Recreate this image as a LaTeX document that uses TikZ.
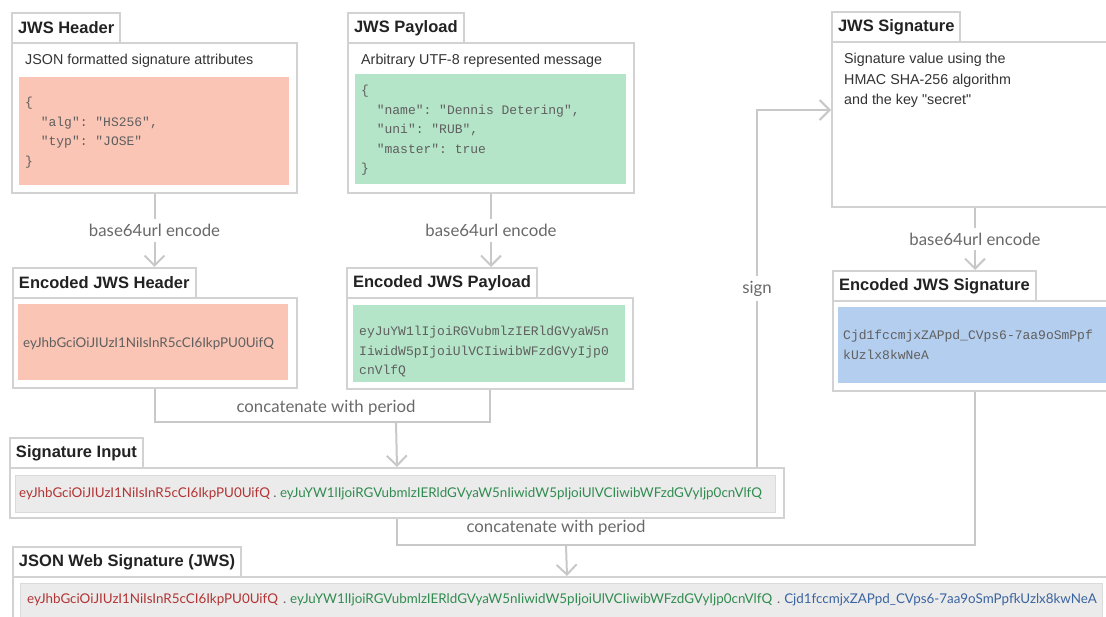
\documentclass[tikz,border=0pt]{standalone}
\usepackage{fontspec}
\setmainfont{Liberation Sans}[Ligatures=TeXOff]
\setmonofont{Liberation Mono}
\newfontfamily\latofont{Lato}
\usetikzlibrary{arrows.meta,positioning,calc}
\definecolor{salmon}{RGB}{250,197,181}
\definecolor{mint}{RGB}{181,229,200}
\definecolor{skyblue}{RGB}{180,206,239}
\definecolor{wellgray}{RGB}{235,235,235}
\definecolor{wellline}{RGB}{218,218,218}
\definecolor{framegray}{RGB}{210,210,210}
\definecolor{wiregray}{RGB}{200,200,200}
\definecolor{titleblack}{RGB}{34,34,34}
\definecolor{descgray}{RGB}{51,51,51}
\definecolor{codegray}{RGB}{95,95,95}
\definecolor{labelgray}{RGB}{105,105,105}
\definecolor{hdrred}{RGB}{178,52,52}
\definecolor{paygreen}{RGB}{48,140,80}
\definecolor{sigblue}{RGB}{58,100,160}

\begin{document}
\begin{tikzpicture}[x=1pt,y=-1pt,
    panelbox/.style={draw=framegray, line width=2pt, fill=white, anchor=north west, inner sep=0pt},
    tabbox/.style={draw=framegray, line width=2pt, fill=white, anchor=north west, inner xsep=6pt,
        inner ysep=0pt, minimum height=30pt, text=titleblack, font=\bfseries\fontsize{16.5}{19}\selectfont},
    wellbox/.style={anchor=north west, inner sep=0pt},
    desctext/.style={inner sep=0pt, align=left, text=descgray, font=\fontsize{14.3}{20.5}\selectfont},
    codetext/.style={anchor=north west, inner sep=0pt, align=left, text=codegray, font=\ttfamily\fontsize{13}{19.5}\selectfont},
    b64text/.style={anchor=west, inner sep=0pt, font=\latofont\fontsize{13.4}{15}\selectfont},
    wireline/.style={draw=wiregray, line width=2pt},
    flowarrow/.style={wireline, -{Straight Barb[length=10pt,width=20pt]}},
    oplabel/.style={fill=white, inner xsep=2pt, inner ysep=5pt, text=labelgray, font=\latofont\fontsize{16.8}{19}\selectfont}]

    \useasboundingbox (0,0) rectangle (1106,617);

    % top row
    \node[panelbox, minimum width=285pt, minimum height=150pt] (hdr) at (11,42) {};
    \node[wellbox, fill=salmon, minimum width=270pt, minimum height=108pt] (hdrwell) at (19,77) {};
    \node[tabbox] (hdrtab) at (11,12) {JWS Header};
    \node[desctext, anchor=west] (hdrdesc) at (25,61) {JSON formatted signature attributes};
    \node[codetext] (hdrcode) at (25,97) {\{\\~~"alg": "HS256",\\~~"typ": "JOSE"\\\}};

    \node[panelbox, minimum width=286pt, minimum height=150pt] (pay) at (347,42) {};
    \node[wellbox, fill=mint, minimum width=271pt, minimum height=110pt] (paywell) at (355,74) {};
    \node[tabbox] (paytab) at (347,12) {JWS Payload};
    \node[desctext, anchor=west] (paydesc) at (361,61) {Arbitrary UTF-8 represented message};
    \node[codetext] (paycode) at (361,85) {\{\\~~"name": "Dennis Detering",\\~~"uni": "RUB",\\~~"master": true\\\}};

    \node[panelbox, minimum width=286pt, minimum height=165pt] (sig) at (831,41) {};
    \node[tabbox] (sigtab) at (831,11) {JWS Signature};
    \node[desctext, anchor=north west] (sigdesc) at (844,53) {Signature value using the\\HMAC SHA-256 algorithm\\and the key "secret"};

    % encoded row
    \node[panelbox, minimum width=284pt, minimum height=90pt] (enchdr) at (12,297) {};
    \node[wellbox, fill=salmon, minimum width=270pt, minimum height=76pt] (enchdrwell) at (18,304) {};
    \node[tabbox] (enchdrtab) at (12,267) {Encoded JWS Header};
    \node[b64text, text=codegray] (enchdrtext) at (23,344) {eyJhbGciOiJIUzI1NiIsInR5cCI6IkpPU0UifQ};

    \node[panelbox, minimum width=286pt, minimum height=91pt] (encpay) at (346,297) {};
    \node[wellbox, fill=mint, minimum width=272pt, minimum height=77pt] (encpaywell) at (353,305) {};
    \node[tabbox] (encpaytab) at (346,267) {Encoded JWS Payload};
    \node[codetext] (encpaycode) at (359,326) {eyJuYW1lIjoiRGVubmlzIERldGVyaW5n\\IiwidW5pIjoiUlVCIiwibWFzdGVyIjp0\\cnVlfQ};

    \node[panelbox, minimum width=284pt, minimum height=90pt] (encsig) at (832,300) {};
    \node[wellbox, fill=skyblue, minimum width=274pt, minimum height=76pt] (encsigwell) at (838,307) {};
    \node[tabbox] (encsigtab) at (832,270) {Encoded JWS Signature};
    \node[codetext] (encsigcode) at (843,330) {Cjd1fccmjxZAPpd\_CVps6-7aa9oSmPpf\\kUzlx8kwNeA};

    % signature input and result
    \node[panelbox, minimum width=774pt, minimum height=50pt] (siginput) at (9,467) {};
    \node[wellbox, fill=wellgray, draw=wellline, line width=1pt, minimum width=760pt, minimum height=37pt] (siginputwell) at (15,475) {};
    \node[tabbox] (siginputtab) at (9,437) {Signature Input};
    \node[b64text] (siginputtext) at (19,494) {{\color{hdrred}eyJhbGciOiJIUzI1NiIsInR5cCI6IkpPU0UifQ} {\color{codegray}.} {\color{paygreen}eyJuYW1lIjoiRGVubmlzIERldGVyaW5nIiwidW5pIjoiUlVCIiwibWFzdGVyIjp0cnVlfQ}};

    \node[panelbox, minimum width=1108pt, minimum height=60pt] (jws) at (12,576) {};
    \node[wellbox, fill=wellgray, draw=wellline, line width=1pt, minimum width=1082pt, minimum height=36pt] (jwswell) at (20,583) {};
    \node[tabbox] (jwstab) at (12,546) {JSON Web Signature (JWS)};
    \node[b64text] (jwstext) at (27,600) {{\color{hdrred}eyJhbGciOiJIUzI1NiIsInR5cCI6IkpPU0UifQ}\hspace{5pt}{\color{codegray}.}\hspace{4pt}{\color{paygreen}eyJuYW1lIjoiRGVubmlzIERldGVyaW5nIiwidW5pIjoiUlVCIiwibWFzdGVyIjp0cnVlfQ}\hspace{5pt}{\color{codegray}.}\hspace{4pt}{\color{sigblue}Cjd1fccmjxZAPpd\_CVps6-7aa9oSmPpfkUzlx8kwNeA}};

    % connectors
    \coordinate (signbend) at (757,110);
    \coordinate (cat1) at (396,422);
    \coordinate (cat2) at (566,545);

    \draw[flowarrow] (hdr.south) -- node[oplabel] {base64url encode} (hdr.south |- enchdrtab.north);
    \draw[flowarrow] (pay.south) -- node[oplabel] {base64url encode} (pay.south |- encpaytab.north);
    \draw[flowarrow] (sig.south) -- node[oplabel] {base64url encode} (sig.south |- encsigtab.north);

    \draw[wireline] (enchdr.south) |- (cat1) -| (encpay.south);
    \draw[flowarrow] (cat1) -- (siginput.north);
    \node[oplabel, fill=none] (cat1label) at (326,408) {concatenate with period};

    \draw[flowarrow] (siginput.north -| signbend) -- node[oplabel] {sign} (signbend) -- (sig.west |- signbend);

    \draw[wireline] (siginput.south) |- (cat2) -| (encsig.south);
    \draw[flowarrow] (cat2) -- (jws.north);
    \node[oplabel, fill=none] (cat2label) at (556,528) {concatenate with period};
\end{tikzpicture}
\end{document}
